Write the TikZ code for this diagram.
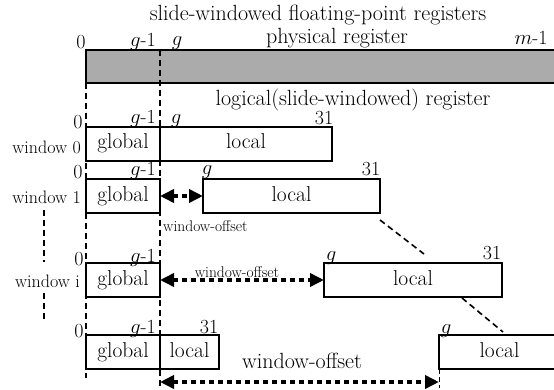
\documentclass[tikz,border=0pt]{standalone}
\usetikzlibrary{arrows.meta}
\begin{document}
\begin{tikzpicture}[x=1pt,y=-1pt,
  reg/.style={draw, line width=1.6pt, inner sep=0pt, outer sep=0pt, anchor=north west,
    font=\fontsize{21.5}{24}\selectfont, text height=14pt, text depth=4pt},
  tx/.style={inner sep=0pt, font=\fontsize{22}{24}\selectfont},
  num/.style={inner sep=0pt, font=\fontsize{20}{22}\selectfont},
  wlab/.style={inner sep=0pt, anchor=east, font=\fontsize{18}{20}\selectfont},
  offlab/.style={inner sep=0pt, font=\fontsize{15.5}{17}\selectfont},
  vdash/.style={line width=1.6pt, dash pattern=on 6pt off 4pt},
  offs/.style={line width=4.5pt, dash pattern=on 5pt off 4pt,
    {Triangle[length=14pt,width=13pt]}-{Triangle[length=14pt,width=13pt]}}
]
\useasboundingbox (0,0) rectangle (554,390);
\clip (0,0) rectangle (554,390);

% headings
\node[tx] (title) at (318,15.5) {slide-windowed floating-point registers};
\node[tx] (phyl) at (337,38) {physical register};
\node[tx] (logl) at (353,100) {logical(slide-windowed) register};

% physical register file
\node[reg, fill=black!33, minimum width=480pt, minimum height=33pt] (phys) at (86,50) {};
\node[num] (p0) at (81,42) {0};
\node[num] (pg1) at (143,42) {$g$-1};
\node[num] (pg) at (177,43) {$g$};
\node[num] (pm1) at (531,38) {$m$-1};

% boundaries of the global part
\coordinate (ltop) at (86,83);
\coordinate (lbot) at (86,378);
\coordinate (gtop) at (160,50);
\coordinate (gbot) at (160,390);
\draw[vdash] (ltop) -- (lbot);
\draw[vdash] (gtop) -- (gbot);

% window 0
\node[reg, minimum width=74pt, minimum height=34pt] (glob0) at (86,127) {global};
\node[reg, minimum width=172pt, minimum height=34pt] (loc0) at (160,127) {local};
\node[wlab] (w0) at (81,147) {window 0};
\node[num] (a0) at (78,122) {0};
\node[num] (b0) at (143,119) {$g$-1};
\node[num] (c0) at (176,121) {$g$};
\node[num] (d0) at (324,118) {31};

% window 1
\node[reg, minimum width=74pt, minimum height=34pt] (glob1) at (86,179) {global};
\node[reg, minimum width=177pt, minimum height=34pt] (loc1) at (203,179) {local};
\node[wlab] (w1) at (81,197) {window 1};
\node[num] (a1) at (78,172) {0};
\node[num] (b1) at (143,171) {$g$-1};
\node[num] (c1) at (207,172) {$g$};
\node[num] (d1) at (371,169) {31};
\draw[offs] (glob1.east) -- (loc1.west);
\node[offlab, anchor=west] (o1) at (163,226) {window-offset};

% continuation marks
\coordinate (v1) at (44,210);
\coordinate (v2) at (44,262);
\coordinate (v3) at (44,293);
\coordinate (v4) at (44,322);
\draw[vdash] (v1) -- (v2);
\draw[vdash] (v3) -- (v4);
\coordinate (s1) at (380,220);
\coordinate (s2) at (424,254);
\coordinate (s3) at (462,298);
\coordinate (s4) at (503,332);
\draw[vdash] (s1) -- (s2);
\draw[vdash] (s3) -- (s4);

% window i
\node[reg, minimum width=74pt, minimum height=34pt] (globi) at (86,263) {global};
\node[reg, minimum width=178pt, minimum height=34pt] (loci) at (324,263) {local};
\node[wlab] (wi) at (80,281) {window i};
\node[num] (ai) at (79,259) {0};
\node[num] (bi) at (143,258) {$g$-1};
\node[num] (ci) at (331,258) {$g$};
\node[num] (di) at (492,253) {31};
\draw[offs] (globi.east) -- (loci.west);
\node[offlab] (oi) at (237,272) {window-offset};

% last window
\node[reg, minimum width=74pt, minimum height=34pt] (globn) at (86,335) {global};
\node[reg, minimum width=59pt, minimum height=34pt] (locn) at (160,335) {local};
\node[reg, minimum width=121pt, minimum height=34pt] (far) at (439,335) {local};
\node[num] (an) at (79,331) {0};
\node[num] (bn) at (143,329) {$g$-1};
\node[num] (dn) at (209,327) {31};
\node[num] (cn) at (446,331) {$g$};
\coordinate (farbot) at (439,388);
\draw[line width=1pt, dash pattern=on 5pt off 3pt] (far.south west) -- (farbot);
\coordinate (wnL) at (160,382);
\coordinate (wnR) at (439,382);
\draw[offs] (wnL) -- (wnR);
\node[tx] (on) at (302,361) {window-offset};
\end{tikzpicture}
\end{document}
